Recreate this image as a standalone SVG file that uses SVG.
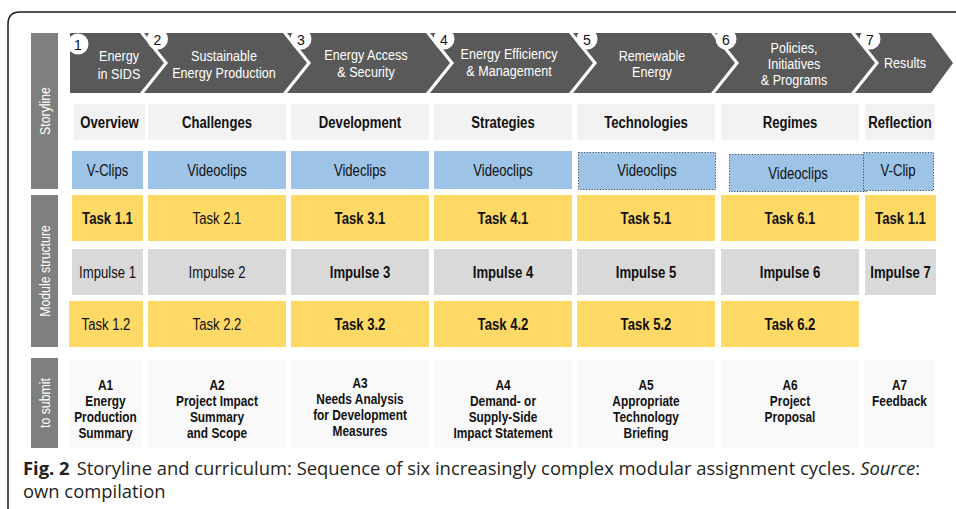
<svg xmlns="http://www.w3.org/2000/svg" width="956" height="509" viewBox="0 0 956 509">
<style>
.frame{fill:none;stroke:#1a1a1a;stroke-width:1.5}
.chev{fill:#595959}
.side{fill:#7f7f7f}
.hd{fill:#f2f2f2}
.bl{fill:#9dc3e6}
.bld{fill:#9dc3e6;stroke:#3a4a5a;stroke-width:1;stroke-dasharray:1.2 1.6}
.ye{fill:#ffd966}
.gr{fill:#d9d9d9}
.sb{fill:#f9f9f9}
.circ{fill:#fff}
text{font-family:"Liberation Sans",Arial,sans-serif;text-anchor:middle}
.ct{fill:#fff;font-size:15px}
.num{fill:#111;font-size:14px}
.st{fill:#fff;font-size:14px}
.t{fill:#111;font-size:16px}
.b{font-weight:bold}
.a{fill:#111;font-size:14.5px;font-weight:bold}
.cap{font-family:"Open Sans","Noto Sans",sans-serif;font-size:18.4px;fill:#231f20;text-anchor:start}
</style>
<path class="frame" d="M8 509 L8 24 Q8 12 20 12 L956 12"/>

<g id="side-labels">
<rect class="side" x="31" y="33" width="27" height="156"/>
<text class="st" transform="translate(49.5,111) rotate(-90) scale(0.88,1)">Storyline</text>
<rect class="side" x="31" y="195" width="27" height="152"/>
<text class="st" transform="translate(49.5,271) rotate(-90) scale(0.88,1)">Module structure</text>
<rect class="side" x="31" y="358" width="27" height="90"/>
<text class="st" transform="translate(49.5,403) rotate(-90) scale(0.88,1)">to submit</text>
</g>

<g id="chevron-1">
<polygon class="chev" points="70,33 140,33 164,63 140,93 70,93"/>
<circle class="circ" cx="78" cy="44" r="10.5"/>
<text class="num" x="78" y="49.5">1</text>
<text class="ct" transform="translate(119,61) scale(0.84,1)">Energy</text>
<text class="ct" transform="translate(119,79) scale(0.84,1)">in SIDS</text>
</g>
<g id="chevron-2">
<polygon class="chev" points="144,33 283,33 307,63 283,93 144,93 168,63"/>
<circle class="circ" cx="157.5" cy="39" r="10.5"/>
<text class="num" x="157.5" y="44.5">2</text>
<text class="ct" transform="translate(224,61) scale(0.84,1)">Sustainable</text>
<text class="ct" transform="translate(224,78) scale(0.84,1)">Energy Production</text>
</g>
<g id="chevron-3">
<polygon class="chev" points="287,33 426,33 450,63 426,93 287,93 311,63"/>
<circle class="circ" cx="301" cy="39" r="10.5"/>
<text class="num" x="301" y="44.5">3</text>
<text class="ct" transform="translate(366,60) scale(0.84,1)">Energy Access</text>
<text class="ct" transform="translate(366,77) scale(0.84,1)">&amp; Security</text>
</g>
<g id="chevron-4">
<polygon class="chev" points="430,33 569,33 593,63 569,93 430,93 454,63"/>
<circle class="circ" cx="444" cy="39" r="10.5"/>
<text class="num" x="444" y="44.5">4</text>
<text class="ct" transform="translate(509,59) scale(0.84,1)">Energy Efficiency</text>
<text class="ct" transform="translate(509,76) scale(0.84,1)">&amp; Management</text>
</g>
<g id="chevron-5">
<polygon class="chev" points="573,33 711,33 735,63 711,93 573,93 597,63"/>
<circle class="circ" cx="587" cy="39" r="10.5"/>
<text class="num" x="587" y="44.5">5</text>
<text class="ct" transform="translate(652,61) scale(0.84,1)">Remewable</text>
<text class="ct" transform="translate(652,77) scale(0.84,1)">Energy</text>
</g>
<g id="chevron-6">
<polygon class="chev" points="715,33 851,33 875,63 851,93 715,93 739,63"/>
<circle class="circ" cx="726" cy="39" r="10.5"/>
<text class="num" x="726" y="44.5">6</text>
<text class="ct" transform="translate(794,53) scale(0.84,1)">Policies,</text>
<text class="ct" transform="translate(794,69) scale(0.84,1)">Initiatives</text>
<text class="ct" transform="translate(794,85) scale(0.84,1)">&amp; Programs</text>
</g>
<g id="chevron-7">
<polygon class="chev" points="855,33 931,33 953,63 931,93 855,93 879,63"/>
<circle class="circ" cx="870" cy="39" r="10.5"/>
<text class="num" x="870" y="44.5">7</text>
<text class="ct" transform="translate(905,68) scale(0.84,1)">Results</text>
</g>

<g id="col-1">
<rect class="hd" x="74" y="104" width="71" height="36"/>
<text class="t b" transform="translate(109.5,127.5) scale(0.82,1)">Overview</text>
<rect class="bl" x="72" y="151" width="71" height="38"/>
<text class="t" transform="translate(107.5,175.5) scale(0.82,1)">V-Clips</text>
<rect class="ye" x="72" y="195" width="71" height="46"/>
<text class="t b" transform="translate(107.5,223.5) scale(0.82,1)">Task 1.1</text>
<rect class="gr" x="72" y="249" width="71" height="46"/>
<text class="t" transform="translate(107.5,277.5) scale(0.82,1)">Impulse 1</text>
<rect class="ye" x="69" y="301" width="74" height="46"/>
<text class="t" transform="translate(106,329.5) scale(0.82,1)">Task 1.2</text>
<rect class="sb" x="69" y="360" width="73" height="88"/>
<text class="a" transform="translate(105.5,390) scale(0.82,1)">A1</text>
<text class="a" transform="translate(105.5,406) scale(0.82,1)">Energy</text>
<text class="a" transform="translate(105.5,422) scale(0.82,1)">Production</text>
<text class="a" transform="translate(105.5,438) scale(0.82,1)">Summary</text>
</g>

<g id="col-2">
<rect class="hd" x="148" y="104" width="138" height="36"/>
<text class="t b" transform="translate(217,127.5) scale(0.82,1)">Challenges</text>
<rect class="bl" x="148" y="151" width="138" height="38"/>
<text class="t" transform="translate(217,175.5) scale(0.82,1)">Videoclips</text>
<rect class="ye" x="148" y="195" width="138" height="46"/>
<text class="t" transform="translate(217,223.5) scale(0.82,1)">Task 2.1</text>
<rect class="gr" x="148" y="249" width="138" height="46"/>
<text class="t" transform="translate(217,277.5) scale(0.82,1)">Impulse 2</text>
<rect class="ye" x="148" y="301" width="138" height="46"/>
<text class="t" transform="translate(217,329.5) scale(0.82,1)">Task 2.2</text>
<rect class="sb" x="148" y="360" width="138" height="88"/>
<text class="a" transform="translate(217,390) scale(0.82,1)">A2</text>
<text class="a" transform="translate(217,406) scale(0.82,1)">Project Impact</text>
<text class="a" transform="translate(217,422) scale(0.82,1)">Summary</text>
<text class="a" transform="translate(217,438) scale(0.82,1)">and Scope</text>
</g>

<g id="col-3">
<rect class="hd" x="291" y="104" width="138" height="36"/>
<text class="t b" transform="translate(360,127.5) scale(0.82,1)">Development</text>
<rect class="bl" x="291" y="151" width="138" height="38"/>
<text class="t" transform="translate(360,175.5) scale(0.82,1)">Videclips</text>
<rect class="ye" x="291" y="195" width="138" height="46"/>
<text class="t b" transform="translate(360,223.5) scale(0.82,1)">Task 3.1</text>
<rect class="gr" x="291" y="249" width="138" height="46"/>
<text class="t b" transform="translate(360,277.5) scale(0.82,1)">Impulse 3</text>
<rect class="ye" x="291" y="301" width="138" height="46"/>
<text class="t b" transform="translate(360,329.5) scale(0.82,1)">Task 3.2</text>
<rect class="sb" x="291" y="360" width="138" height="88"/>
<text class="a" transform="translate(360,388) scale(0.82,1)">A3</text>
<text class="a" transform="translate(360,404) scale(0.82,1)">Needs Analysis</text>
<text class="a" transform="translate(360,420) scale(0.82,1)">for Development</text>
<text class="a" transform="translate(360,436) scale(0.82,1)">Measures</text>
</g>

<g id="col-4">
<rect class="hd" x="434" y="104" width="138" height="36"/>
<text class="t b" transform="translate(503,127.5) scale(0.82,1)">Strategies</text>
<rect class="bl" x="434" y="151" width="138" height="38"/>
<text class="t" transform="translate(503,175.5) scale(0.82,1)">Videoclips</text>
<rect class="ye" x="434" y="195" width="138" height="46"/>
<text class="t b" transform="translate(503,223.5) scale(0.82,1)">Task 4.1</text>
<rect class="gr" x="434" y="249" width="138" height="46"/>
<text class="t b" transform="translate(503,277.5) scale(0.82,1)">Impulse 4</text>
<rect class="ye" x="434" y="301" width="138" height="46"/>
<text class="t b" transform="translate(503,329.5) scale(0.82,1)">Task 4.2</text>
<rect class="sb" x="434" y="360" width="138" height="88"/>
<text class="a" transform="translate(503,390) scale(0.82,1)">A4</text>
<text class="a" transform="translate(503,406) scale(0.82,1)">Demand- or</text>
<text class="a" transform="translate(503,422) scale(0.82,1)">Supply-Side</text>
<text class="a" transform="translate(503,438) scale(0.82,1)">Impact Statement</text>
</g>

<g id="col-5">
<rect class="hd" x="577" y="104" width="138" height="36"/>
<text class="t b" transform="translate(646,127.5) scale(0.82,1)">Technologies</text>
<rect class="bld" x="578.5" y="152.5" width="137" height="37"/>
<text class="t" transform="translate(647,176) scale(0.82,1)">Videoclips</text>
<rect class="ye" x="577" y="195" width="138" height="46"/>
<text class="t b" transform="translate(646,223.5) scale(0.82,1)">Task 5.1</text>
<rect class="gr" x="577" y="249" width="138" height="46"/>
<text class="t b" transform="translate(646,277.5) scale(0.82,1)">Impulse 5</text>
<rect class="ye" x="577" y="301" width="138" height="46"/>
<text class="t b" transform="translate(646,329.5) scale(0.82,1)">Task 5.2</text>
<rect class="sb" x="577" y="360" width="138" height="88"/>
<text class="a" transform="translate(646,390) scale(0.82,1)">A5</text>
<text class="a" transform="translate(646,406) scale(0.82,1)">Appropriate</text>
<text class="a" transform="translate(646,422) scale(0.82,1)">Technology</text>
<text class="a" transform="translate(646,438) scale(0.82,1)">Briefing</text>
</g>

<g id="col-6">
<rect class="hd" x="721" y="104" width="138" height="36"/>
<text class="t b" transform="translate(790,127.5) scale(0.82,1)">Regimes</text>
<rect class="bld" x="729.5" y="154.5" width="137" height="37"/>
<text class="t" transform="translate(798,178.5) scale(0.82,1)">Videoclips</text>
<rect class="ye" x="721" y="195" width="138" height="46"/>
<text class="t b" transform="translate(790,223.5) scale(0.82,1)">Task 6.1</text>
<rect class="gr" x="721" y="249" width="138" height="46"/>
<text class="t b" transform="translate(790,277.5) scale(0.82,1)">Impulse 6</text>
<rect class="ye" x="721" y="301" width="138" height="46"/>
<text class="t b" transform="translate(790,329.5) scale(0.82,1)">Task 6.2</text>
<rect class="sb" x="721" y="360" width="138" height="88"/>
<text class="a" transform="translate(790,390) scale(0.82,1)">A6</text>
<text class="a" transform="translate(790,406) scale(0.82,1)">Project</text>
<text class="a" transform="translate(790,422) scale(0.82,1)">Proposal</text>
</g>

<g id="col-7">
<rect class="hd" x="865" y="104" width="70" height="36"/>
<text class="t b" transform="translate(900,127.5) scale(0.82,1)">Reflection</text>
<rect class="bld" x="863.5" y="152.5" width="70" height="38"/>
<text class="t" transform="translate(898,176) scale(0.82,1)">V-Clip</text>
<rect class="ye" x="865" y="195" width="71" height="46"/>
<text class="t b" transform="translate(900.5,223.5) scale(0.82,1)">Task 1.1</text>
<rect class="gr" x="865" y="249" width="71" height="46"/>
<text class="t b" transform="translate(900.5,277.5) scale(0.82,1)">Impulse 7</text>
<rect class="sb" x="864" y="360" width="71" height="88"/>
<text class="a" transform="translate(899.5,390) scale(0.82,1)">A7</text>
<text class="a" transform="translate(899.5,406) scale(0.82,1)">Feedback</text>
</g>

<g id="connectors"></g>

<g id="caption">
<text class="cap" x="23" y="475"><tspan font-weight="bold">Fig. 2</tspan><tspan dx="7">Storyline and curriculum: Sequence of six increasingly complex modular assignment cycles. </tspan><tspan font-style="italic">Source</tspan>:</text>
<text class="cap" x="23" y="498">own compilation</text>
</g>
</svg>
